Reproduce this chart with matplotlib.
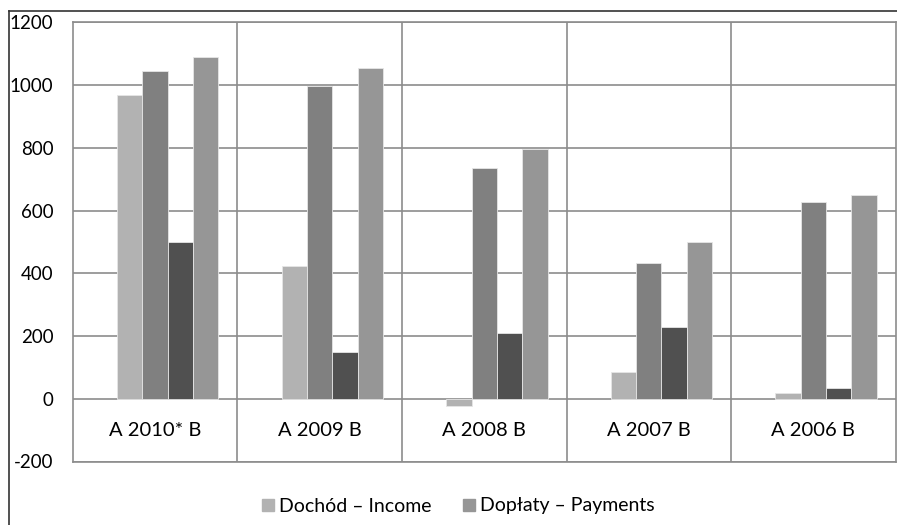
import matplotlib.pyplot as plt
import numpy as np
from matplotlib.lines import Line2D

plt.rcParams['font.family'] = ['Lato', 'DejaVu Sans']

# Values per year (left to right)
years = ['A 2010* B', 'A 2009 B', 'A 2008 B', 'A 2007 B', 'A 2006 B']
income = [968, 422, -24, 84, 17]
series_2 = [1045, 997, 735, 432, 628]
series_3 = [501, 150, 209, 229, 34]
payments = [1090, 1054, 797, 501, 648]

y_ticks = [-200, 0, 200, 400, 600, 800, 1000, 1200]

fig = plt.figure(figsize=(8.97, 5.25), dpi=100)
ax = fig.add_axes([72.7 / 897, 1 - 461.5 / 525, (895.7 - 72.7) / 897, (461.5 - 22.3) / 525])

x = np.arange(len(years))
w = 0.154
grid_col = '#8c8c8c'

# four bars per group, shifted right of the group centre
ax.bar(x - w, income, w, color='#b2b2b2', edgecolor='#e6e6e6', linewidth=0.6, zorder=3)
ax.bar(x, series_2, w, color='#808080', edgecolor='#e6e6e6', linewidth=0.6, zorder=3)
ax.bar(x + w, series_3, w, color='#505050', edgecolor='#e6e6e6', linewidth=0.6, zorder=3)
ax.bar(x + 2 * w, payments, w, color='#969696', edgecolor='#e6e6e6', linewidth=0.6, zorder=3)

ax.set_xlim(-0.5, len(years) - 0.5)
ax.set_ylim(-200, 1200)
ax.set_yticks(y_ticks)
ax.set_yticklabels([str(v) for v in y_ticks], fontsize=13.5, color='black')
ax.tick_params(axis='y', length=0, pad=14)
ax.set_xticks([])

# horizontal grid and category separators (table-like layout)
for v in y_ticks:
    ax.axhline(v, color=grid_col, lw=1.2, zorder=2)
for b in np.arange(0.5, len(years) - 0.5):
    ax.axvline(b, color=grid_col, lw=1.2, zorder=2)
for s in ax.spines.values():
    s.set_color(grid_col)
    s.set_linewidth(1.2)

# category names sit in the row between 0 and -200
for xi, name in zip(x, years):
    ax.text(xi, -100, name, ha='center', va='center', fontsize=14.5)

# legend only lists income and payments
handles = [
    Line2D([], [], marker='s', ls='none', color='#b2b2b2', markersize=8),
    Line2D([], [], marker='s', ls='none', color='#969696', markersize=8),
]
fig.legend(handles, ['Dochód – Income', 'Dopłaty – Payments'], loc='center',
           bbox_to_anchor=(457 / 897, 1 - 506 / 525), ncol=2, frameon=False,
           fontsize=14, handletextpad=0.1, columnspacing=1.5, handlelength=0.9)

# outer chart frame
fig.add_artist(Line2D([9 / 897, 1], [1 - 10.5 / 525] * 2, color='#333333', lw=1.2))
fig.add_artist(Line2D([9 / 897] * 2, [0, 1 - 10.5 / 525], color='#333333', lw=1.2))

fig.savefig('out.png', dpi=100)
